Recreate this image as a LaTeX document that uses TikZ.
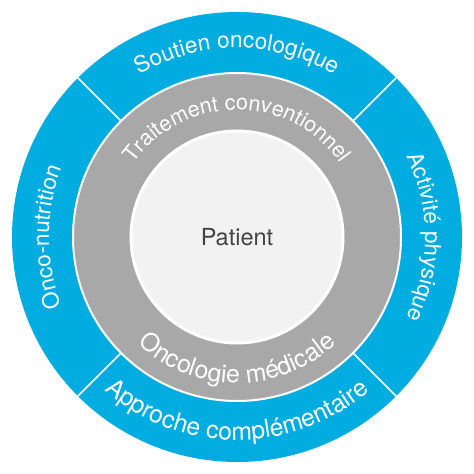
\documentclass[tikz,border=0pt]{standalone}
\usepackage{fontspec}
\setmainfont{TeX Gyre Heros}
\usetikzlibrary{decorations.text}
\definecolor{ringblue}{RGB}{0,172,224}
\definecolor{ringgray}{RGB}{168,168,168}
\definecolor{corefill}{RGB}{242,242,242}
\definecolor{coretext}{RGB}{68,68,68}

\begin{document}
\begin{tikzpicture}[x=1pt, y=1pt,
    arclabel/.style 2 args={decorate, decoration={text along path, text align=center,
        text color=white, text={|\fontsize{#1}{26}\selectfont|#2}}}]
    \useasboundingbox (-237,-237) rectangle (237,237);

    % rings
    \node[circle, fill=ringblue, minimum size=450pt, inner sep=0pt] (outer) at (0,0) {};
    \node[circle, fill=ringgray, draw=white, line width=2pt, minimum size=328pt, inner sep=0pt] (ring) at (0,0) {};
    \node[circle, fill=corefill, draw=white, line width=3pt, minimum size=212pt, inner sep=0pt,
        text=coretext, font=\fontsize{23.5}{26}\selectfont] (core) at (0,0) {Patient};

    % dividers of the blue ring
    \foreach \a in {45,135,225,315}
        \draw[white, line width=1.6pt] (ring.\a) -- (outer.\a);

    % blue ring labels
    \path[arclabel={22.6}{Soutien oncologique}] (150:189) arc[start angle=150, end angle=30, radius=189];
    \path[arclabel={22.3}{Activité physique}] (60:188) arc[start angle=60, end angle=-60, radius=188];
    \path[arclabel={22.5}{Onco-nutrition}] (240:188) arc[start angle=240, end angle=120, radius=188];
    \path[arclabel={24.8}{Approche complémentaire}] (200:203) arc[start angle=200, end angle=340, radius=203];

    % gray ring labels
    \path[arclabel={21.6}{Traitement conventionnel}] (180:127) arc[start angle=180, end angle=0, radius=127];
    \path[arclabel={25}{Oncologie médicale}] (200:146) arc[start angle=200, end angle=340, radius=146];
\end{tikzpicture}
\end{document}
